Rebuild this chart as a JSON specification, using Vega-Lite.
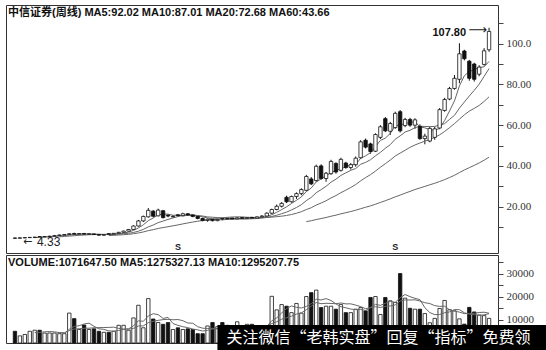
{
"$schema":"https://vega.github.io/schema/vega-lite/v6.json",
"padding":{"left":5,"top":4,"right":44,"bottom":10},
"background":"white",
"spacing":0,
"config":{
 "view":{"stroke":"#333","strokeWidth":1},
 "axis":{"grid":false,"domain":false,"tickColor":"#444","tickSize":5,"labelOverlap":false,"labelFont":"Liberation Serif","labelFontSize":11,"labelColor":"#333","labelPadding":3},
 "title":{"font":"Liberation Sans, Noto Sans CJK SC","fontSize":11,"fontWeight":"bold","color":"#111","anchor":"start"}
},
"datasets":{
"weeks":[
{"i":0,"o":4.6,"h":4.8,"l":4.33,"c":4.5,"v":5100},
{"i":1,"o":4.5,"h":4.9,"l":4.4,"c":4.7,"v":3100},
{"i":2,"o":4.7,"h":5.0,"l":4.5,"c":4.8,"v":3700},
{"i":3,"o":4.8,"h":5.1,"l":4.6,"c":4.9,"v":5100},
{"i":4,"o":4.9,"h":5.2,"l":4.7,"c":5.0,"v":5560,"m5":4.78,"vm5":4512},
{"i":5,"o":5.3,"h":5.5,"l":5.0,"c":5.2,"v":5560,"m5":4.92,"vm5":4604},
{"i":6,"o":5.2,"h":5.5,"l":5.0,"c":5.3,"v":4350,"m5":5.04,"vm5":4854},
{"i":7,"o":5.3,"h":5.7,"l":5.1,"c":5.5,"v":4350,"m5":5.18,"vm5":4984},
{"i":8,"o":5.5,"h":6.0,"l":5.3,"c":5.8,"v":4350,"m5":5.36,"vm5":4834},
{"i":9,"o":5.8,"h":6.3,"l":5.6,"c":6.1,"v":4050,"m5":5.58,"m10":5.18,"vm5":4532,"vm10":4522},
{"i":10,"o":6.1,"h":6.5,"l":5.9,"c":6.3,"v":4050,"m5":5.80,"m10":5.36,"vm5":4230,"vm10":4417},
{"i":11,"o":6.3,"h":7.0,"l":6.1,"c":6.7,"v":13000,"m5":6.08,"m10":5.56,"vm5":5960,"vm10":5407},
{"i":12,"o":6.8,"h":7.2,"l":6.3,"c":6.5,"v":10600,"m5":6.28,"m10":5.73,"vm5":7210,"vm10":6097},
{"i":13,"o":6.5,"h":7.0,"l":6.3,"c":6.8,"v":5870,"m5":6.48,"m10":5.92,"vm5":7514,"vm10":6174},
{"i":14,"o":6.8,"h":7.1,"l":6.3,"c":6.5,"v":7830,"m5":6.56,"m10":6.07,"vm5":8270,"vm10":6401},
{"i":15,"o":6.5,"h":6.9,"l":6.2,"c":6.6,"v":5870,"m5":6.62,"m10":6.21,"vm5":8634,"vm10":6432},
{"i":16,"o":6.6,"h":6.8,"l":6.1,"c":6.3,"v":6180,"m5":6.54,"m10":6.31,"vm5":7270,"vm10":6615},
{"i":17,"o":6.3,"h":6.6,"l":5.8,"c":6.0,"v":5100,"m5":6.44,"m10":6.36,"vm5":6170,"vm10":6690},
{"i":18,"o":6.0,"h":6.4,"l":5.7,"c":6.2,"v":4650,"m5":6.32,"m10":6.40,"vm5":5926,"vm10":6720},
{"i":19,"o":6.7,"h":6.9,"l":6.2,"c":6.5,"v":4650,"m5":6.32,"m10":6.44,"m20":5.81,"vm5":5290,"vm10":6780},
{"i":20,"o":6.5,"h":7.0,"l":6.3,"c":6.9,"v":5100,"m5":6.38,"m10":6.50,"m20":5.93,"vm5":5136,"vm10":6885},
{"i":21,"o":6.9,"h":7.6,"l":6.7,"c":7.4,"v":7700,"m5":6.60,"m10":6.57,"m20":6.07,"vm5":5440,"vm10":6355},
{"i":22,"o":7.4,"h":8.2,"l":7.2,"c":8.0,"v":7700,"m5":7.00,"m10":6.72,"m20":6.23,"vm5":5960,"vm10":6065},
{"i":23,"o":8.0,"h":9.0,"l":7.8,"c":8.8,"v":5560,"m5":7.52,"m10":6.92,"m20":6.42,"vm5":6142,"vm10":6034},
{"i":24,"o":8.8,"h":10.8,"l":8.6,"c":10.5,"v":10900,"m5":8.32,"m10":7.32,"m20":6.70,"vm5":7392,"vm10":6341},
{"i":25,"o":10.5,"h":13.5,"l":10.2,"c":13.0,"v":16400,"m5":9.54,"m10":7.96,"m20":7.09,"vm5":9652,"vm10":7394},
{"i":26,"o":13.0,"h":15.6,"l":12.5,"c":15.2,"v":6610,"m5":11.10,"m10":8.85,"m20":7.58,"vm5":9434,"vm10":7437},
{"i":27,"o":15.0,"h":19.3,"l":14.6,"c":18.2,"v":19300,"m5":13.14,"m10":10.07,"m20":8.22,"vm5":11754,"vm10":8857},
{"i":28,"o":17.8,"h":18.3,"l":14.8,"c":15.3,"v":10440,"m5":14.44,"m10":10.98,"m20":8.69,"vm5":12730,"vm10":9436},
{"i":29,"o":15.5,"h":19.0,"l":15.2,"c":18.3,"v":8900,"m5":16.00,"m10":12.16,"m20":9.30,"vm5":12330,"vm10":9861},
{"i":30,"o":18.0,"h":18.4,"l":14.2,"c":14.6,"v":8130,"m5":16.32,"m10":12.93,"m20":9.72,"vm5":10676,"vm10":10164},
{"i":31,"o":15.8,"h":16.2,"l":14.8,"c":15.4,"v":8900,"m5":16.36,"m10":13.73,"m20":10.15,"vm5":11134,"vm10":10284},
{"i":32,"o":15.0,"h":15.9,"l":14.7,"c":15.2,"v":5870,"m5":15.76,"m10":14.45,"m20":10.59,"vm5":8448,"vm10":10101},
{"i":33,"o":16.0,"h":16.3,"l":15.2,"c":15.6,"v":6610,"m5":15.82,"m10":15.13,"m20":11.03,"vm5":7682,"vm10":10206,"s":"S"},
{"i":34,"o":15.6,"h":17.0,"l":15.2,"c":16.5,"v":5870,"m5":15.46,"m10":15.73,"m20":11.53,"vm5":7076,"vm10":9703},
{"i":35,"o":16.5,"h":16.8,"l":15.5,"c":15.9,"v":6180,"m5":15.72,"m10":16.02,"m20":11.99,"vm5":6686,"vm10":8681},
{"i":36,"o":15.9,"h":16.2,"l":14.8,"c":15.2,"v":5870,"m5":15.68,"m10":16.02,"m20":12.44,"vm5":6080,"vm10":8607},
{"i":37,"o":15.2,"h":15.5,"l":13.8,"c":14.2,"v":4050,"m5":15.48,"m10":15.62,"m20":12.85,"vm5":5716,"vm10":7082},
{"i":38,"o":14.2,"h":14.6,"l":12.8,"c":13.2,"v":4050,"m5":15.00,"m10":15.41,"m20":13.20,"vm5":5204,"vm10":6443},
{"i":39,"o":13.2,"h":14.2,"l":12.6,"c":13.8,"v":7400,"m5":14.46,"m10":14.96,"m20":13.56,"vm5":5510,"vm10":6293},
{"i":40,"o":13.8,"h":14.0,"l":12.8,"c":13.1,"v":8900,"m5":13.90,"m10":14.81,"m20":13.87,"vm5":6054,"vm10":6370},
{"i":41,"o":13.1,"h":14.0,"l":12.9,"c":13.6,"v":7090,"m5":13.58,"m10":14.63,"m20":14.18,"vm5":6298,"vm10":6189,"note":"关注微信“老韩实盘”回复“指标”免费领"},
{"i":42,"o":14.1,"h":14.4,"l":13.3,"c":14.0,"v":8900,"m5":13.54,"m10":14.51,"m20":14.48,"vm5":7268,"vm10":6492},
{"i":43,"o":14.0,"h":14.6,"l":13.6,"c":14.2,"v":6500,"m5":13.74,"m10":14.37,"m20":14.75,"vm5":7758,"vm10":6481},
{"i":44,"o":14.4,"h":14.6,"l":13.8,"c":14.0,"v":6000,"m5":13.78,"m10":14.12,"m20":14.93,"vm5":7478,"vm10":6494},
{"i":45,"o":14.0,"h":14.8,"l":13.8,"c":14.5,"v":9220,"m5":14.06,"m10":13.98,"m20":15.00,"vm5":7542,"vm10":6798},
{"i":46,"o":14.6,"h":14.9,"l":14.0,"c":14.3,"v":6500,"m5":14.20,"m10":13.89,"m20":14.96,"vm5":7424,"vm10":6861},
{"i":47,"o":14.3,"h":14.8,"l":13.9,"c":14.6,"v":8130,"m5":14.32,"m10":13.93,"m20":14.78,"vm5":7270,"vm10":7269},
{"i":48,"o":14.7,"h":15.0,"l":14.2,"c":14.4,"v":8130,"m5":14.36,"m10":14.05,"m20":14.73,"vm5":7596,"vm10":7677},
{"i":49,"o":14.4,"h":15.2,"l":14.2,"c":15.0,"v":6000,"m5":14.56,"m10":14.17,"m20":14.57,"vm5":7596,"vm10":7537},
{"i":50,"o":15.0,"h":15.8,"l":14.6,"c":15.4,"v":6500,"m5":14.74,"m10":14.40,"m20":14.61,"vm5":7052,"vm10":7297},
{"i":51,"o":15.4,"h":17.2,"l":15.2,"c":16.8,"v":7400,"m5":15.24,"m10":14.72,"m20":14.68,"vm5":7232,"vm10":7328},
{"i":52,"o":16.8,"h":19.0,"l":16.4,"c":18.6,"v":20300,"m5":16.04,"m10":15.18,"m20":14.85,"vm5":9666,"vm10":8468},
{"i":53,"o":18.6,"h":21.0,"l":18.2,"c":20.2,"v":14400,"m5":17.20,"m10":15.78,"m20":15.08,"vm5":10920,"vm10":9258},
{"i":54,"o":20.2,"h":22.2,"l":19.6,"c":21.6,"v":16700,"m5":18.52,"m10":16.54,"m20":15.33,"vm5":13060,"vm10":10328},
{"i":55,"o":24.6,"h":25.4,"l":21.8,"c":22.4,"v":16000,"m5":19.92,"m10":17.33,"m20":15.66,"vm5":14960,"vm10":11006},
{"i":56,"o":22.4,"h":25.4,"l":22.0,"c":25.0,"v":13200,"m5":21.56,"m10":18.40,"m20":16.15,"vm5":16120,"vm10":11676},
{"i":57,"o":25.0,"h":27.0,"l":23.8,"c":26.4,"v":17200,"m5":23.12,"m10":19.58,"m20":16.76,"vm5":15500,"vm10":12583},
{"i":58,"o":26.4,"h":29.0,"l":25.6,"c":28.4,"v":13000,"m5":24.76,"m10":20.98,"m20":17.52,"vm5":15220,"vm10":13070},
{"i":59,"o":28.0,"h":35.6,"l":27.5,"c":34.8,"v":20200,"m5":27.40,"m10":22.96,"m20":18.57,"m60":12.65,"vm5":15920,"vm10":14490},
{"i":60,"o":33.6,"h":34.5,"l":30.6,"c":31.2,"v":21900,"m5":29.16,"m10":24.54,"m20":19.47,"m60":13.09,"vm5":17100,"vm10":16030},
{"i":61,"o":32.8,"h":40.6,"l":32.2,"c":39.8,"v":23000,"m5":32.12,"m10":26.84,"m20":20.78,"m60":13.68,"vm5":19060,"vm10":17590},
{"i":62,"o":40.0,"h":40.8,"l":33.2,"c":33.8,"v":15400,"m5":33.60,"m10":28.36,"m20":21.77,"m60":14.16,"vm5":18700,"vm10":17100},
{"i":63,"o":33.8,"h":37.0,"l":32.2,"c":36.4,"v":16000,"m5":35.20,"m10":29.98,"m20":22.88,"m60":14.68,"vm5":19300,"vm10":17260},
{"i":64,"o":36.2,"h":43.0,"l":35.6,"c":42.2,"v":16000,"m5":36.68,"m10":32.04,"m20":24.29,"m60":15.30,"vm5":18460,"vm10":17190},
{"i":65,"o":41.2,"h":41.8,"l":36.2,"c":37.0,"v":14700,"m5":37.84,"m10":33.50,"m20":25.42,"m60":15.83,"vm5":17020,"vm10":17060},
{"i":66,"o":37.8,"h":44.0,"l":37.2,"c":43.2,"v":16700,"m5":38.52,"m10":35.32,"m20":26.86,"m60":16.47,"vm5":15760,"vm10":17410},
{"i":67,"o":41.4,"h":42.0,"l":38.6,"c":39.2,"v":13200,"m5":39.60,"m10":36.60,"m20":28.09,"m60":17.03,"vm5":15320,"vm10":17010},
{"i":68,"o":39.2,"h":41.4,"l":38.2,"c":40.6,"v":13200,"m5":40.44,"m10":37.82,"m20":29.40,"m60":17.61,"vm5":14760,"vm10":17030},
{"i":69,"o":40.6,"h":44.6,"l":39.6,"c":43.8,"v":14700,"m5":40.76,"m10":38.72,"m20":30.84,"m60":18.24,"vm5":14500,"vm10":16480},
{"i":70,"o":44.0,"h":52.6,"l":43.4,"c":51.8,"v":15400,"m5":43.72,"m10":40.78,"m20":32.66,"m60":18.99,"vm5":14640,"vm10":15830},
{"i":71,"o":52.6,"h":53.4,"l":48.6,"c":49.2,"v":14000,"m5":44.92,"m10":41.72,"m20":34.28,"m60":19.70,"vm5":14100,"vm10":14930},
{"i":72,"o":50.8,"h":51.4,"l":46.0,"c":47.0,"v":19800,"m5":46.48,"m10":43.04,"m20":35.70,"m60":20.38,"vm5":15420,"vm10":15370},
{"i":73,"o":47.2,"h":56.0,"l":46.8,"c":55.4,"v":20200,"m5":49.44,"m10":44.94,"m20":37.46,"m60":21.19,"vm5":16820,"vm10":15790},
{"i":74,"o":54.0,"h":60.0,"l":53.2,"c":59.2,"v":12400,"m5":52.52,"m10":46.64,"m20":39.34,"m60":22.07,"vm5":16360,"vm10":15430},
{"i":75,"o":63.2,"h":64.0,"l":56.6,"c":57.2,"v":19800,"m5":53.60,"m10":48.66,"m20":41.08,"m60":22.91,"vm5":17240,"vm10":15940},
{"i":76,"o":57.0,"h":61.6,"l":55.2,"c":60.8,"v":18350,"m5":55.92,"m10":50.42,"m20":42.87,"m60":23.82,"vm5":18110,"vm10":16105},
{"i":77,"o":58.8,"h":66.6,"l":58.2,"c":65.8,"v":17600,"m5":59.68,"m10":53.08,"m20":44.84,"m60":24.81,"vm5":17670,"vm10":16545,"s":"S"},
{"i":78,"o":66.6,"h":67.4,"l":56.4,"c":57.2,"v":30200,"m5":60.04,"m10":54.74,"m20":46.28,"m60":25.66,"vm5":19670,"vm10":18245},
{"i":79,"o":59.8,"h":63.6,"l":59.0,"c":62.8,"v":19500,"m5":60.76,"m10":56.64,"m20":47.68,"m60":26.60,"vm5":21090,"vm10":18725},
{"i":80,"o":62.8,"h":63.6,"l":59.2,"c":60.0,"v":15100,"m5":61.32,"m10":57.46,"m20":49.12,"m60":27.49,"vm5":20150,"vm10":18695},
{"i":81,"o":60.0,"h":63.4,"l":58.2,"c":62.6,"v":14700,"m5":61.68,"m10":58.80,"m20":50.26,"m60":28.41,"vm5":19420,"vm10":18765},
{"i":82,"o":59.4,"h":60.4,"l":52.8,"c":53.4,"v":14700,"m5":59.20,"m10":59.44,"m20":51.24,"m60":29.16,"vm5":18840,"vm10":18255},
{"i":83,"o":53.4,"h":55.8,"l":50.6,"c":54.6,"v":12800,"m5":58.68,"m10":59.36,"m20":52.15,"m60":29.93,"vm5":15360,"vm10":17515},
{"i":84,"o":52.2,"h":59.2,"l":51.6,"c":58.4,"v":8800,"m5":57.80,"m10":59.28,"m20":52.96,"m60":30.73,"vm5":13220,"vm10":17155},
{"i":85,"o":54.0,"h":59.2,"l":52.8,"c":58.2,"v":10700,"m5":57.44,"m10":59.38,"m20":54.02,"m60":31.48,"vm5":12340,"vm10":16245},
{"i":86,"o":58.6,"h":68.4,"l":58.0,"c":67.6,"v":15000,"m5":58.44,"m10":60.06,"m20":55.24,"m60":32.35,"vm5":12400,"vm10":15910},
{"i":87,"o":67.2,"h":73.4,"l":66.6,"c":72.6,"v":18500,"m5":62.28,"m10":60.74,"m20":56.91,"m60":33.26,"vm5":13160,"vm10":16000},
{"i":88,"o":72.8,"h":78.8,"l":72.2,"c":78.0,"v":14500,"m5":66.96,"m10":62.82,"m20":58.78,"m60":34.30,"vm5":13500,"vm10":14430},
{"i":89,"o":78.0,"h":84.6,"l":77.4,"c":83.0,"v":14000,"m5":71.88,"m10":64.84,"m20":60.74,"m60":35.38,"vm5":14540,"vm10":13880},
{"i":90,"o":82.5,"h":100.2,"l":80.6,"c":95.0,"v":10500,"m5":79.24,"m10":68.34,"m20":62.90,"m60":36.72,"vm5":14500,"vm10":13420},
{"i":91,"o":96.4,"h":97.0,"l":91.8,"c":92.6,"v":8200,"m5":84.24,"m10":71.34,"m20":65.07,"m60":38.01,"vm5":13140,"vm10":12770},
{"i":92,"o":91.4,"h":92.0,"l":81.8,"c":83.0,"v":15500,"m5":86.32,"m10":74.30,"m20":66.87,"m60":39.14,"vm5":12540,"vm10":12850},
{"i":93,"o":90.0,"h":90.6,"l":81.4,"c":82.5,"v":13500,"m5":87.22,"m10":77.09,"m20":68.23,"m60":40.25,"vm5":12340,"vm10":12920},
{"i":94,"o":85.0,"h":89.4,"l":84.0,"c":88.5,"v":12200,"m5":88.32,"m10":80.10,"m20":69.69,"m60":41.45,"vm5":11980,"vm10":13260},
{"i":95,"o":89.8,"h":97.8,"l":89.2,"c":96.5,"v":11900,"m5":88.62,"m10":83.93,"m20":71.66,"m60":42.80,"vm5":12260,"vm10":13380},
{"i":96,"o":97.0,"h":107.8,"l":96.0,"c":106.0,"v":10700,"m5":91.30,"m10":87.77,"m20":73.92,"m60":44.31,"vm5":12760,"vm10":12950}
]},
"data":{"name":"weeks"},
"vconcat":[
{
 "width":492,"height":248,
 "title":{"text":"中信证券(周线) MA5:92.02 MA10:87.01 MA20:72.68 MA60:43.66","offset":-13,"dx":2,"frame":"group"},
 "encoding":{"x":{"field":"i","type":"quantitative","scale":{"domain":[-0.8,96.8],"nice":false,"zero":false},"axis":null}},
 "resolve":{"axis":{"y":"independent"}},
 "layer":[
  {"mark":{"type":"rule","color":"#111","strokeWidth":1},
   "encoding":{"y":{"field":"l","type":"quantitative","scale":{"domain":[-2.75,118.97],"nice":false,"zero":false},
     "axis":{"orient":"right","title":null,"values":[20,40,60,80,100],"format":".4r"}},"y2":{"field":"h"}}},
  {"transform":[{"fold":["m5","m10","m20","m60"]},{"filter":"isValid(datum.value)"}],
   "mark":{"type":"line","strokeWidth":1,"color":"#666"},
   "encoding":{"y":{"field":"value","type":"quantitative","scale":{"domain":[-2.75,118.97],"nice":false,"zero":false},
     "axis":{"orient":"right","title":null,"values":[10,30,50,70,90,110],"labels":false}},
    "detail":{"field":"key"}}},
  {"mark":{"type":"bar","width":3.4,"stroke":"#111","strokeWidth":0.8},
   "encoding":{"y":{"field":"o","type":"quantitative","scale":{"domain":[-2.75,118.97],"nice":false,"zero":false},"axis":null},"y2":{"field":"c"},
    "fill":{"condition":{"test":"datum.c < datum.o","value":"#111"},"value":"white"}}},
  {"transform":[{"joinaggregate":[{"op":"max","field":"h","as":"hm"}]},{"filter":"datum.h == datum.hm"}],
   "mark":{"type":"text","align":"right","baseline":"middle","dx":-23,"dy":5,"font":"Liberation Sans","fontSize":11,"fontWeight":"bold","color":"#111"},
   "encoding":{"y":{"field":"h","type":"quantitative","scale":{"domain":[-2.75,118.97],"nice":false,"zero":false},"axis":null},"text":{"field":"h","format":".2f"}}},
  {"transform":[{"joinaggregate":[{"op":"max","field":"h","as":"hm"}]},{"filter":"datum.h == datum.hm"}],
   "mark":{"type":"text","text":"⟶","align":"right","baseline":"middle","dx":-2,"dy":2,"font":"DejaVu Sans","fontSize":13,"color":"#222"},
   "encoding":{"y":{"field":"h","type":"quantitative","scale":{"domain":[-2.75,118.97],"nice":false,"zero":false},"axis":null}}},
  {"transform":[{"joinaggregate":[{"op":"min","field":"l","as":"lm"}]},{"filter":"datum.l == datum.lm"}],
   "mark":{"type":"text","text":"←","align":"left","baseline":"middle","dx":8,"dy":3,"font":"DejaVu Sans","fontSize":11,"color":"#222"},
   "encoding":{"y":{"field":"l","type":"quantitative","scale":{"domain":[-2.75,118.97],"nice":false,"zero":false},"axis":null}}},
  {"transform":[{"joinaggregate":[{"op":"min","field":"l","as":"lm"}]},{"filter":"datum.l == datum.lm"}],
   "mark":{"type":"text","align":"left","baseline":"middle","dx":22,"dy":3,"font":"Liberation Sans","fontSize":12,"color":"#222"},
   "encoding":{"y":{"field":"l","type":"quantitative","scale":{"domain":[-2.75,118.97],"nice":false,"zero":false},"axis":null},"text":{"field":"l","format":".2f"}}},
  {"transform":[{"filter":"isValid(datum.s)"}],
   "mark":{"type":"text","baseline":"middle","font":"Liberation Sans","fontSize":9,"fontWeight":"bold","color":"#222"},
   "encoding":{"y":{"datum":0,"type":"quantitative","scale":{"domain":[-2.75,118.97],"nice":false,"zero":false},"axis":null},"text":{"field":"s"}}}
 ]
},
{
 "width":492,"height":88,
 "title":{"text":"VOLUME:1071647.50 MA5:1275327.13 MA10:1295207.75","offset":-13,"dx":2,"frame":"group"},
 "encoding":{"x":{"field":"i","type":"quantitative","scale":{"domain":[-0.8,96.8],"nice":false,"zero":false},"axis":null}},
 "resolve":{"axis":{"y":"independent"}},
 "layer":[
  {"mark":{"type":"bar","width":3.4,"stroke":"#111","strokeWidth":0.8},
   "encoding":{"y":{"field":"v","type":"quantitative","scale":{"domain":[0,38260],"nice":false},
     "axis":{"orient":"right","title":null,"values":[10000,20000,30000],"format":"d"}},
    "fill":{"condition":{"test":"datum.c < datum.o","value":"#111"},"value":"white"}}},
  {"transform":[{"fold":["vm5","vm10"]},{"filter":"isValid(datum.value)"}],
   "mark":{"type":"line","strokeWidth":1,"color":"#666"},
   "encoding":{"y":{"field":"value","type":"quantitative","scale":{"domain":[0,38260],"nice":false},
     "axis":{"orient":"right","title":null,"values":[15000,25000,35000],"labels":false}},"detail":{"field":"key"}}},
  {"transform":[{"filter":"isValid(datum.note)"}],
   "mark":{"type":"rect","fill":"black"},
   "encoding":{"x2":{"datum":108},"y":{"datum":7830,"type":"quantitative","scale":{"domain":[0,38260],"nice":false},"axis":null},"y2":{"datum":-4400}}},
  {"transform":[{"filter":"isValid(datum.note)"}],
   "mark":{"type":"text","color":"white","font":"Noto Sans CJK SC","fontSize":16,"align":"left","baseline":"middle","dx":9},
   "encoding":{"y":{"datum":2170,"type":"quantitative","scale":{"domain":[0,38260],"nice":false},"axis":null},"text":{"field":"note"}}}
 ]
}
]
}
